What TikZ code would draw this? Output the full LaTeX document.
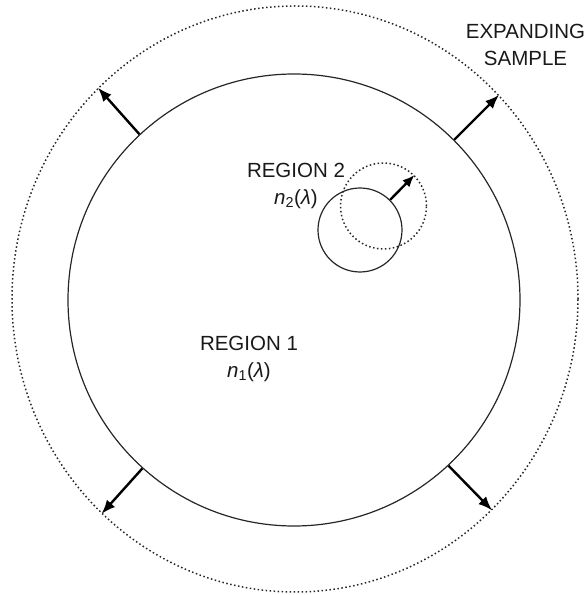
\documentclass[tikz,border=0pt]{standalone}
\usepackage{fontspec}
\setmainfont{Liberation Sans}
\usetikzlibrary{shapes.geometric,arrows.meta,positioning}
\begin{document}
\begin{tikzpicture}[
    x=1pt, y=1pt,
    ring/.style={circle, draw, black!85, line width=1.2pt, inner sep=0pt},
    dotring/.style={draw, black!85, line width=1.5pt, dash pattern=on 1.5pt off 2.5pt, inner sep=0pt},
    outarrow/.style={-{Latex[length=14pt,width=11pt]}, line width=2.4pt},
    outarrowsmall/.style={-{Latex[length=12pt,width=10pt]}, line width=2.4pt},
    lbl/.style={font=\fontsize{20.5}{27}\selectfont, align=center, text=black!90}
]
    \useasboundingbox (0,0) rectangle (588,595);

    % sample before and after expansion
    \node[dotring, ellipse, minimum width=566pt, minimum height=586pt] (sample) at (295,296) {};
    \node[ring, minimum size=452pt] (region1) at (294,295) {};

    % inclusion before and after expansion
    \node[ring, minimum size=84pt] (region2) at (360,365) {};
    \node[dotring, circle, minimum size=86pt] (region2new) at (383.5,389) {};

    \node[lbl] (sampletext) at (525.5,550) {EXPANDING\\SAMPLE};
    \node[lbl] (region2text) at (296,409) {REGION 2\\{\itshape n}\textsubscript{2}({\itshape λ})};
    \node[lbl] (region1text) at (249,236) {REGION 1\\{\itshape n}\textsubscript{1}({\itshape λ})};

    \draw[outarrow] (region1.133) -- (sample.133);
    \draw[outarrow] (region1.45) -- (sample.45);
    \draw[outarrow] (region1.228) -- (sample.228);
    \draw[outarrow] (region1.313) -- (sample.313);
    \draw[outarrowsmall] (region2.45) -- (region2new.45);
\end{tikzpicture}
\end{document}
